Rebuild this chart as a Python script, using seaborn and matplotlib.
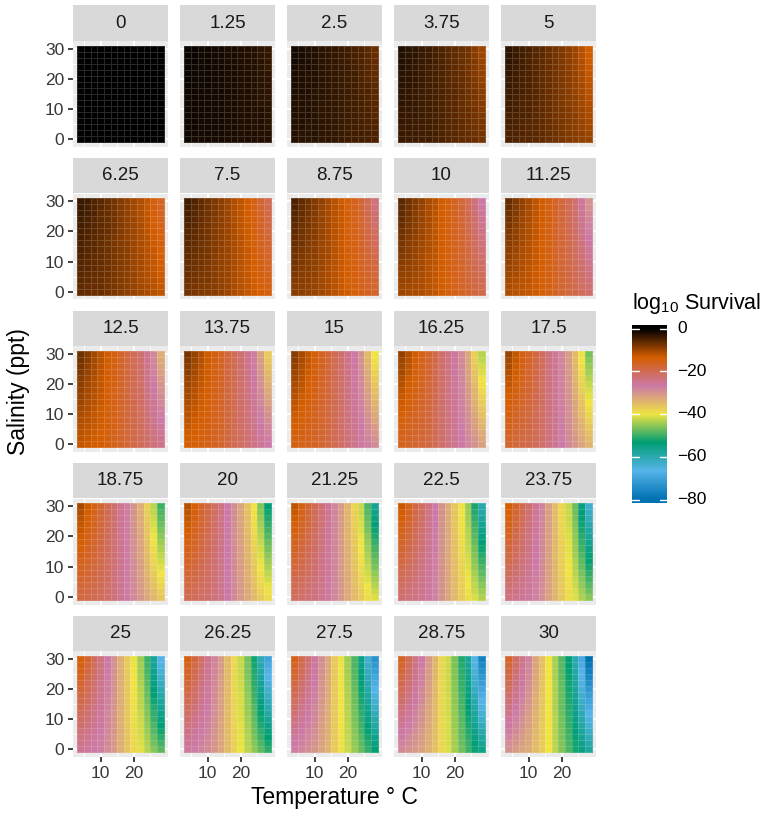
import numpy as np
import pandas as pd
import matplotlib
matplotlib.use("Agg")
import matplotlib.pyplot as plt
import seaborn as sns
from matplotlib.colors import LinearSegmentedColormap, Normalize
from matplotlib.patches import Rectangle

# ---------------- data ----------------
times = [0, 1.25, 2.5, 3.75, 5, 6.25, 7.5, 8.75, 10, 11.25, 12.5, 13.75, 15,
         16.25, 17.5, 18.75, 20, 21.25, 22.5, 23.75, 25, 26.25, 27.5, 28.75, 30]
temperature = [4, 6, 8, 10, 12, 14, 16, 18, 20, 22, 24, 26, 28]
salinity = [0, 2, 4, 6, 8, 10, 12, 14, 16, 18, 20, 22, 24, 26, 28, 30]
# log10 survival after 30 days (rows = salinity, columns = temperature)
log10_survival_day30 = [
    [-30.0, -31.0, -32.0, -33.0, -35.0, -37.0, -40.0, -43.0, -46.0, -49.0, -52.0, -55.0, -58.0],
    [-29.1, -30.3, -31.5, -32.7, -34.8, -36.9, -40.0, -43.1, -46.2, -49.3, -52.5, -55.9, -59.5],
    [-28.3, -29.7, -31.0, -32.3, -34.6, -36.8, -40.0, -43.1, -46.3, -49.6, -53.1, -56.9, -60.9],
    [-27.4, -29.0, -30.5, -32.0, -34.4, -36.7, -40.0, -43.2, -46.5, -49.9, -53.6, -57.8, -62.4],
    [-26.5, -28.3, -30.0, -31.7, -34.2, -36.6, -40.0, -43.3, -46.7, -50.2, -54.1, -58.7, -63.9],
    [-25.7, -27.7, -29.5, -31.3, -34.0, -36.5, -40.0, -43.3, -46.8, -50.5, -54.7, -59.7, -65.3],
    [-24.8, -27.0, -29.0, -31.0, -33.8, -36.4, -40.0, -43.4, -47.0, -50.8, -55.2, -60.6, -66.8],
    [-23.9, -26.3, -28.5, -30.7, -33.6, -36.3, -40.0, -43.5, -47.2, -51.1, -55.7, -61.5, -68.3],
    [-23.1, -25.7, -28.0, -30.3, -33.4, -36.2, -40.0, -43.5, -47.3, -51.4, -56.3, -62.5, -69.7],
    [-22.2, -25.0, -27.5, -30.0, -33.2, -36.1, -40.0, -43.6, -47.5, -51.7, -56.8, -63.4, -71.2],
    [-21.3, -24.3, -27.0, -29.7, -33.0, -36.0, -40.0, -43.7, -47.7, -52.0, -57.3, -64.3, -72.7],
    [-20.5, -23.7, -26.5, -29.3, -32.8, -35.9, -40.0, -43.7, -47.8, -52.3, -57.9, -65.3, -74.1],
    [-19.6, -23.0, -26.0, -29.0, -32.6, -35.8, -40.0, -43.8, -48.0, -52.6, -58.4, -66.2, -75.6],
    [-18.7, -22.3, -25.5, -28.7, -32.4, -35.7, -40.0, -43.9, -48.2, -52.9, -58.9, -67.1, -77.1],
    [-17.9, -21.7, -25.0, -28.3, -32.2, -35.6, -40.0, -43.9, -48.3, -53.2, -59.5, -68.1, -78.5],
    [-17.0, -21.0, -24.5, -28.0, -32.0, -35.5, -40.0, -44.0, -48.5, -53.5, -60.0, -69.0, -80.0],
]
legend_ticks = [0, -20, -40, -60, -80]
palette = ["#0072B2", "#56B4E9", "#009E73", "#F0E442", "#CC79A7", "#D55E00", "#000000"]

# log-linear decay in time: log10 S(t) = log10 S(30) * t / 30
rows = []
day30 = np.array(log10_survival_day30)
for t in times:
    for i, s in enumerate(salinity):
        for j, T in enumerate(temperature):
            rows.append((t, T, s, day30[i, j] * t / times[-1]))
df = pd.DataFrame(rows, columns=["time", "temperature", "salinity", "log10_survival"])

# ---------------- style ----------------
sns.set_theme(style="darkgrid")
plt.rcParams["font.family"] = ["Liberation Sans", "DejaVu Sans"]
plt.rcParams["mathtext.default"] = "regular"

cmap = LinearSegmentedColormap.from_list("surv", palette)
vmin, vmax = df["log10_survival"].min(), df["log10_survival"].max()
norm = Normalize(vmin=vmin, vmax=vmax)


def draw_tiles(data, **kws):
    ax = plt.gca()
    grid = data.pivot(index="salinity", columns="temperature", values="log10_survival")
    tx = grid.columns.to_numpy(float)
    sy = grid.index.to_numpy(float)
    dx = np.diff(tx).mean()
    dy = np.diff(sy).mean()
    xe = np.r_[tx - dx / 2, tx[-1] + dx / 2]
    ye = np.r_[sy - dy / 2, sy[-1] + dy / 2]
    ax.pcolormesh(xe, ye, grid.to_numpy(), cmap=cmap, norm=norm,
                  edgecolors=(1, 1, 1, 0.16), linewidth=0.5, zorder=2)


g = sns.FacetGrid(df, col="time", col_wrap=5, col_order=times,
                  sharex=True, sharey=True, height=1.5, aspect=1)
g.map_dataframe(draw_tiles)
fig = g.figure
fig.set_size_inches(7.72, 8.16)
fig.set_dpi(100)
g.set_titles("")
g.set_axis_labels("", "")

W, H = 772.0, 816.0
pw, ph = 95.0, 106.0
xr = (temperature[0] - 1, temperature[-1] + 1)
yr = (salinity[0] - 1, salinity[-1] + 1)
xexp = 0.05 * (xr[1] - xr[0])
yexp = 0.05 * (yr[1] - yr[0])

for k, ax in enumerate(g.axes.flat):
    r, c = divmod(k, 5)
    x0 = 73 + 107 * c
    top = 41 + 152.5 * r
    ax.set_position([x0 / W, 1 - (top + ph) / H, pw / W, ph / H])
    ax.set_xlim(xr[0] - xexp, xr[1] + xexp)
    ax.set_ylim(yr[0] - yexp, yr[1] + yexp)
    ax.set_facecolor("#EBEBEB")
    ax.set_xticks([10, 20])
    ax.set_xticks([5, 15, 25], minor=True)
    ax.set_yticks([0, 10, 20, 30])
    ax.set_yticks([5, 15, 25], minor=True)
    ax.grid(which="major", color="white", linewidth=1.3)
    ax.grid(which="minor", color="white", linewidth=0.65)
    ax.set_axisbelow(True)
    for sp in ax.spines.values():
        sp.set_visible(False)
    ax.tick_params(which="minor", length=0, bottom=False, left=False)
    ax.tick_params(which="major", length=3.8, width=1.3, color="#333333",
                   labelsize=12.5, labelcolor="#383838", pad=2.5,
                   bottom=(r == 4), labelbottom=(r == 4),
                   left=(c == 0), labelleft=(c == 0))
    ax.set_xlabel("")
    ax.set_ylabel("")
    # strip
    ax.add_patch(Rectangle((0, 1 + 0.5 / ph), 1, 35 / ph, transform=ax.transAxes,
                           clip_on=False, facecolor="#D9D9D9", edgecolor="none"))
    ax.text(0.5, 1 + 18 / ph, f"{times[k]:g}", transform=ax.transAxes,
            ha="center", va="center", fontsize=13.5, color="#1A1A1A")

fig.text(334.5 / W, 1 - 804 / H, "Temperature \u00b0 C", ha="center", va="baseline",
         fontsize=16.5, color="black")
fig.text(19 / W, 1 - 392 / H, "Salinity (ppt)", ha="center", va="center",
         rotation=90, fontsize=16.5, color="black")

# ---------------- colour bar legend ----------------
cax = fig.add_axes([632 / W, 1 - 503 / H, 35 / W, 178 / H])
span = vmax - vmin
pad = span * 3.5 / 171
lo, hi = vmin - pad, vmax + pad
grad = np.linspace(hi, lo, 400)[:, None]
cax.imshow(grad, extent=[0, 1, lo, hi], aspect="auto", cmap=cmap, norm=norm,
           interpolation="bilinear")
cax.set_xlim(0, 1)
cax.set_ylim(lo, hi)
cax.axis("off")
for v in legend_ticks:
    cax.plot([0, 0.2], [v, v], color="white", linewidth=1.0)
    cax.plot([0.8, 1], [v, v], color="white", linewidth=1.0)
    cax.text(1.29, v, f"{v}".replace("-", "\u2212"), transform=cax.get_yaxis_transform(),
             ha="left", va="center", fontsize=12.5, color="black")
fig.text(632 / W, 1 - 309 / H, r"log$_{10}$ Survival", ha="left", va="baseline",
         fontsize=15.5, color="black")

fig.savefig("out.png", dpi=100)
